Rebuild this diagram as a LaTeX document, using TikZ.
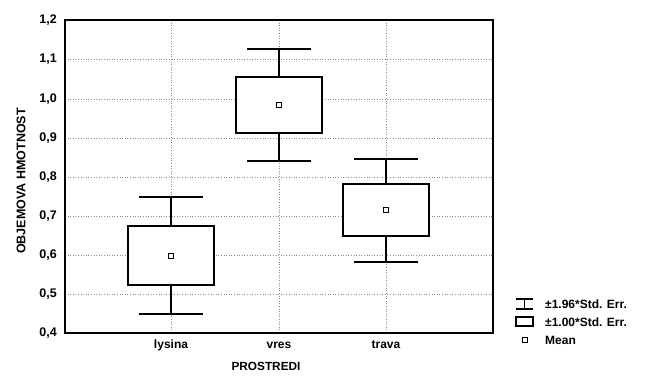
\documentclass[tikz,border=0pt]{standalone}
\usepackage{fontspec}
\setmainfont{Liberation Sans}
\newcommand\bxplot[7]{%
  % #1 x, #2 cap top, #3 box top, #4 mean, #5 box bottom, #6 cap bottom, #7 name
  \draw[whisk] (#1,#2) -- (#1,#6);
  \draw[capst] (#1-32,#2) -- (#1+32,#2);
  \draw[capst] (#1-32,#6) -- (#1+32,#6);
  \draw[boxst] (#1-43,#3) rectangle (#1+43,#5);
  \node[meanst] (#7) at (#1,#4) {};
}
\begin{document}
\begin{tikzpicture}[x=1pt,y=-1pt,
  grid/.style={black!45, dotted, line width=0.6pt},
  frame/.style={line width=1.3pt},
  boxst/.style={line width=1.4pt, fill=white},
  whisk/.style={line width=1.4pt},
  capst/.style={line width=2pt},
  meanst/.style={draw, line width=1pt, minimum size=5.5pt, inner sep=0pt, fill=white},
  ticklab/.style={font=\fontsize{12.5}{14}\selectfont\bfseries, anchor=east, inner sep=0pt},
  catlab/.style={font=\fontsize{12}{14}\selectfont\bfseries, inner sep=0pt},
  leglab/.style={font=\fontsize{12}{14}\selectfont\bfseries, anchor=west, inner sep=0pt}]
\useasboundingbox[fill=white] (0,0) rectangle (648,376);
% grid
\foreach \v/\y in {0.5/294, 0.6/255, 0.7/216, 0.8/177, 0.9/138, 1.0/99, 1.1/59}
  \draw[grid] (65,\y) -- (493,\y);
\foreach \x in {171,279,386}
  \draw[grid] (\x,20) -- (\x,333);
% frame
\draw[frame] (65,20) rectangle (493,333);
% tick labels
\foreach \t/\y [count=\i] in {{0,4}/333, {0,5}/294, {0,6}/255, {0,7}/216, {0,8}/177, {0,9}/138, {1,0}/99, {1,1}/59, {1,2}/20}
  \node[ticklab] (t\i) at (57,\y) {\t};
% boxes
\bxplot{171}{197}{226}{256}{285}{314}{m1}
\bxplot{279}{49}{77}{105}{133}{161}{m2}
\bxplot{386}{159}{184}{210}{236}{262}{m3}
% category labels
\node[catlab] (c1) at (171,345) {lysina};
\node[catlab] (c2) at (279,345) {vres};
\node[catlab] (c3) at (386,345) {trava};
\node[font=\fontsize{11.8}{14}\selectfont\bfseries, inner sep=0pt] (xt) at (266,366) {PROSTREDI};
\node[font=\fontsize{12.5}{14}\selectfont\bfseries, rotate=90, inner sep=0pt] (yt) at (21,181) {OBJEMOVA HMOTNOST};
% legend
\draw[line width=1.2pt] (516,299) -- (533,299) (516,309) -- (533,309) (524.5,299) -- (524.5,309);
\draw[line width=1.2pt] (516,317) rectangle (533,326);
\node[meanst, minimum size=5pt] (lm) at (524.5,340) {};
\node[leglab] (l1) at (545,304) {±1.96*Std. Err.};
\node[leglab] (l2) at (545,322) {±1.00*Std. Err.};
\node[leglab] (l3) at (545,340) {Mean};
\end{tikzpicture}
\end{document}
